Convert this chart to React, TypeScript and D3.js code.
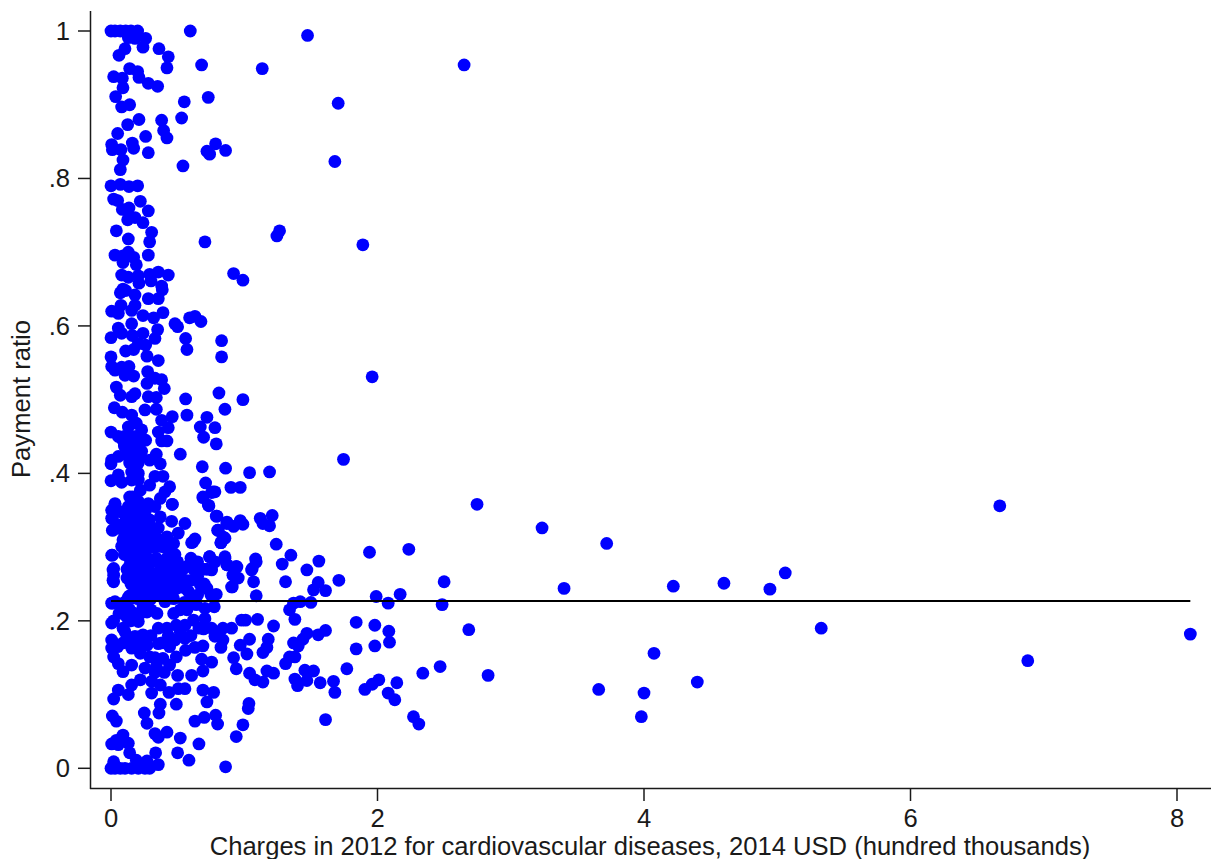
import React from "react";
import * as d3 from "d3";

type P = [number, number];

const xTicks = [0, 2, 4, 6, 8];
const yTicks = [0, 0.2, 0.4, 0.6, 0.8, 1];
const yTickLabels = ["0", ".2", ".4", ".6", ".8", "1"];
const xTitle = "Charges in 2012 for cardiovascular diseases, 2014 USD (hundred thousands)";
const yTitle = "Payment ratio";
const meanRatio = 0.227;
const lineExtent = [0, 8.1];

const topBand: P[] = [
  [0,1],[.03,1],[.07,1],[.11,1],[.15,1],[.2,1],[.13,.991],[.18,.99],[.26,.99],[.24,.978],[.105,.976],[.06,.967],[.36,.976],[.43,.965],[.42,.95],[.68,.954],[.595,1],[1.475,.994],[1.135,.949],[1.705,.902],[.73,.91],[.55,.904],[.53,.882],[1.68,.823],[.54,.817],[.785,.847],[.72,.837],[.74,.833],[.86,.838],[.28,.835],[.26,.857],[.38,.879],[.395,.865],[.42,.855],[.21,.88],[.125,.873],[.05,.861],[.005,.846],[.01,.839],[.075,.839],[.16,.848],[.17,.841],[.09,.825],[.07,.812],[.14,.949],[.2,.945],[.21,.937],[.28,.929],[.35,.925],[.02,.938],[.085,.936],[.09,.923],[.035,.911],[.08,.897],[.14,.9],[2.65,.954],
];
const upperBand: P[] = [
  [0,.79],[.07,.792],[.135,.789],[.2,.79],[.02,.772],[.05,.77],[.085,.758],[.135,.76],[.22,.769],[.28,.756],[.125,.744],[.18,.747],[.24,.74],[.04,.729],[.305,.727],[.13,.718],[.29,.714],[.705,.714],[1.245,.722],[1.265,.729],[1.89,.71],[.03,.696],[.09,.695],[.13,.7],[.17,.693],[.09,.686],[.19,.683],[.28,.696],[.08,.669],[.13,.666],[.205,.668],[.29,.67],[.355,.673],[.43,.669],[.3,.661],[.21,.658],[.38,.654],[.92,.671],[.99,.662],[.09,.65],
  [.07,.645],[.11,.648],[.18,.642],[.28,.637],[.355,.637],[.385,.649],[.075,.628],[.005,.62],[.055,.617],[.155,.621],[.24,.614],[.32,.611],[.39,.618],[.18,.628],[.48,.603],[.5,.599],[.59,.611],[.63,.613],[.675,.606],[.155,.603],[.055,.597],[.08,.59],[0,.584],[.16,.587],[.24,.59],[.35,.595],[.33,.583],[.56,.583],[.57,.568],[.83,.58],[.83,.558],[.205,.576],[.26,.574],[.17,.568],[.11,.566],[.27,.559],[.355,.553],[0,.558],[.005,.545],[.08,.544],[.135,.545],[.03,.54],[.105,.533],[.17,.532],[.275,.538],[.27,.522],[.33,.529],[.38,.527],[.4,.515],[.04,.517],[.07,.506],[.155,.504],[.18,.508],[.28,.504],[.34,.503],[.56,.501],[.81,.509],[.99,.5],[1.96,.531],
];
const middleBand: P[] = [
  [.025,.489],[.085,.483],[.155,.479],[.255,.486],[.34,.487],[.855,.487],[.57,.479],[.46,.477],[.38,.472],[.43,.462],[.72,.476],[.67,.463],[.78,.462],[.695,.449],[.79,.44],[0,.456],[.355,.456],[.38,.444],[.42,.444],[.19,.468],[.13,.463],[.23,.459],[.055,.45],[.09,.445],[.155,.45],[.19,.45],[.24,.445],[.26,.445],[.12,.435],[.16,.43],[.2,.435],[.23,.43],[.14,.42],[.18,.415],[.21,.42],[.1,.45],[.13,.445],[.17,.44],[.21,.445],[.15,.44],[.1,.437],[.52,.426],[.34,.426],[.29,.418],[.37,.413],[.005,.418],[0,.413],[.055,.423],[.12,.425],[.14,.414],[.205,.414],[.155,.402],[.205,.4],[.33,.396],[.39,.396],[.685,.409],[.86,.407],[1.04,.401],[1.19,.402],[1.745,.419],[0,.39],[.055,.398],[.08,.388],[.155,.391],[.205,.391],[.71,.387],[.9,.381],[.97,.381],[.78,.375],[.755,.374],[.69,.367],[.735,.356],[.44,.382],[.405,.375],[.29,.384],[.22,.377],[.14,.368],[.37,.366],[.46,.358],[.03,.359],[.005,.35],[.07,.348],[.13,.355],[.205,.362],[.28,.359],[.33,.355],[.18,.346],[.24,.348],[.155,.337],[.005,.339],[.29,.337],[.37,.341],[.455,.335],[.555,.332],[.505,.319],[.79,.342],[.87,.332],[.92,.328],[.97,.336],[.99,.331],[1.12,.339],[1.14,.332],[1.19,.329],[1.21,.343],[.805,.323],[.84,.314],[.825,.306],[.63,.311],[.605,.306],[1.24,.304],[1.35,.289],[1.085,.284],[1.285,.277],[1.56,.281],[1.47,.269],[.01,.323],[.055,.326],[.12,.305],[.08,.301],[.005,.289],[.02,.271],
];
const denseCore: P[] = [
  [.155,.314],[.22,.323],[.28,.319],[.355,.326],[.42,.314],[.47,.305],[.18,.305],[.27,.305],[.37,.301],[.48,.29],[.74,.287],[.855,.287],[.94,.274],[.87,.276],[1.06,.271],[.07,.33],[.1,.345],[.13,.335],[.17,.33],[.2,.32],[.24,.34],[.28,.335],[.32,.325],[.09,.31],[.13,.305],[.16,.315],[.2,.3],[.24,.31],[.28,.3],[.32,.3],[.36,.31],[.1,.29],[.14,.285],[.18,.29],[.22,.285],[.26,.29],[.3,.28],[.34,.285],[.38,.28],[.42,.285],[.46,.275],[.5,.28],[.54,.27],[.58,.275],[.12,.27],[.16,.265],[.2,.27],[.24,.26],[.28,.27],[.32,.26],[.36,.265],[.4,.26],[.44,.265],[.48,.26],[.52,.255],[.15,.25],[.19,.245],[.23,.25],[.27,.24],[.31,.245],[.35,.255],[.39,.245],[.43,.24],[.2,.23],[.25,.225],[.3,.23],[.35,.235],[.4,.235],[.47,.23],[.3,.215],[.24,.22],[.15,.23],[.1,.225],[.12,.205],[.18,.21],[.22,.21],[.47,.21],[.55,.225],[.6,.23],[.65,.235],[.6,.255],[.65,.26],[.7,.25],[.75,.235],[.72,.27],[.78,.28],[.6,.285],[.65,.28],
  [.03,.357],[.01,.339],[.015,.323],[.16,.368],[.46,.358],[.69,.368],[.73,.357],[.765,.375],[.795,.342],[.87,.334],[.97,.334],[.8,.323],[.855,.312],[.825,.306],[.615,.307],[.01,.289],[.74,.287],[.855,.285],[.87,.276],[.945,.273],[.915,.262],[.955,.258],[.91,.246],[.015,.269],[.015,.255],[.12,.258],[.13,.232],[.01,.224],
  [.19,.35],[.26,.35],[.22,.33],[.15,.325],[.1,.32],[.26,.32],[.18,.32],[.11,.3],[.22,.3],[.3,.31],[.34,.31],[.4,.3],[.44,.3],[.16,.3],[.26,.28],[.2,.28],[.14,.275],[.3,.265],[.36,.28],[.42,.275],[.5,.27],[.26,.255],[.32,.25],[.2,.26],[.38,.255],[.46,.25],[.56,.255],[.18,.235],[.23,.235],[.32,.235],[.5,.245],[.55,.245],
];
const lowerBand: P[] = [
  [.94,.258],[.905,.246],[1.07,.253],[1.09,.234],[1.31,.253],[1.055,.269],[1.52,.242],[1.61,.241],[1.555,.252],[1.71,.255],[1.09,.28],[.79,.236],[.755,.269],[.67,.249],[.72,.244],[.58,.24],[.49,.244],[.38,.24],[.27,.24],[.14,.234],[.02,.262],[.02,.253],[.13,.26],[.24,.27],[.37,.27],[.49,.27],[.62,.27],[.69,.27],[.155,.271],[.29,.25],[.42,.25],[.24,.255],
  [.005,.224],[.03,.226],[.08,.217],[.02,.2],[.005,.197],[.14,.215],[.205,.199],[.27,.212],[.345,.21],[.405,.226],[.52,.215],[.57,.215],[.64,.222],[.705,.217],[.775,.219],[.62,.201],[.555,.194],[.49,.194],[.42,.19],[.355,.19],[.705,.203],[.695,.189],[.755,.19],[.84,.19],[.905,.19],[.78,.179],[.84,.174],[.825,.164],[.98,.201],[1.01,.201],[1.1,.202],[1.22,.193],[1.04,.175],[.97,.167],[1.02,.155],[1.18,.175],[1.17,.164],[1.14,.157],[.92,.15],[.94,.135],[1.04,.129],[1.08,.12],[1.14,.117],[1.17,.132],[1.22,.129],[1.31,.142],[1.34,.151],[1.38,.151],[1.37,.17],[1.405,.166],[1.44,.175],[1.47,.183],[1.555,.181],[1.61,.187],[1.34,.215],[1.37,.224],[1.42,.226],[1.5,.225],[1.38,.202],[1.455,.133],[1.52,.132],[1.38,.121],[1.4,.112],[1.47,.119],[1.57,.116],[1.67,.118],[1.68,.103],[1.61,.066],
  [.06,.21],[.11,.225],[.15,.2],[.09,.19],[.05,.165],[.13,.175],[.2,.17],[.3,.18],[.38,.17],[.43,.18],[.52,.185],[.33,.15],[.6,.18],[.56,.16],[.4,.13],[.33,.13],[.62,.23],[.66,.19],
];
const bottomBand: P[] = [
  [.005,.174],[.005,.163],[.02,.151],[.055,.142],[.09,.131],[.105,.185],[.18,.179],[.24,.181],[.09,.17],[.155,.163],[.27,.167],[.355,.169],[.29,.151],[.22,.156],[.155,.14],[.255,.136],[.34,.138],[.39,.149],[.48,.174],[.555,.176],[.44,.165],[.49,.151],[.44,.14],[.63,.164],[.69,.166],[.68,.148],[.755,.144],[.69,.132],[.605,.126],[.5,.126],[.555,.108],[.505,.108],[.69,.106],[.77,.103],[.72,.09],[.435,.103],[.37,.113],[.305,.118],[.22,.12],[.155,.113],[.055,.106],[.13,.1],[.02,.094],[.305,.102],[.37,.087],[.49,.087],[.36,.075],[.25,.075],[.27,.061],[.01,.071],[.04,.064],[.33,.047],[.355,.042],[.42,.049],[.52,.041],[.66,.033],[.63,.064],[.7,.069],[.785,.072],[.8,.06],[1.035,.088],[1.03,.081],[.99,.059],[.94,.043],[.09,.045],[.04,.038],[.005,.033],[.055,.032],[.13,.034],[.14,.021],[.335,.021],[.5,.021],[.585,.011],[.86,.002],[.355,.005],[0,0],[.03,0],[.07,0],[.105,0],[.155,0],[.205,0],[.255,0],[.29,0],[.02,.009],[.19,.011],[.27,.01],
];
const outliers: P[] = [
  [2.747,.358],[3.235,.326],[3.72,.305],[1.94,.293],[2.235,.297],[2.5,.253],[3.4,.244],[1.99,.233],[2.17,.236],[2.08,.224],[2.485,.222],[1.84,.198],[1.98,.194],[2.085,.186],[2.09,.171],[1.98,.166],[1.84,.162],[2.685,.188],[1.77,.135],[2.47,.138],[2.34,.129],[2.83,.126],[2.145,.116],[2.01,.12],[1.96,.114],[1.905,.107],[2.08,.102],[2.13,.093],[2.27,.07],[2.31,.06],[3.66,.107],[4.22,.247],[4.6,.251],[4.945,.243],[5.06,.265],[5.33,.19],[6.67,.356],[6.88,.146],[8.1,.182],[4.4,.117],[4.075,.156],[4,.102],[3.98,.07],
];

const points: P[] = [...topBand, ...upperBand, ...middleBand, ...denseCore, ...lowerBand, ...bottomBand, ...outliers];

const x = d3.scaleLinear().domain([0, 8]).range([111, 1177]);
const y = d3.scaleLinear().domain([0, 1]).range([768.3, 31]);
const FONT = "'Liberation Sans', Arial, sans-serif";
const INK = "#1a1a1a";
const FS = 25.6;

export default function App() {
  return (
    <svg width={1211} height={859} style={{ position: "absolute", left: 0, top: 0, display: "block", background: "#fff" }}>
      <g fill="#0000ff">
        {points.map((p, i) => (
          <circle key={i} cx={x(p[0])} cy={y(p[1])} r={6.4} />
        ))}
      </g>
      <line x1={x(lineExtent[0])} x2={x(lineExtent[1])} y1={y(meanRatio)} y2={y(meanRatio)} stroke="#000" strokeWidth={2} />
      <line x1={90.5} x2={90.5} y1={11} y2={789} stroke={INK} strokeWidth={1.5} />
      <line x1={90} x2={1211} y1={788.5} y2={788.5} stroke={INK} strokeWidth={1.5} />
      {yTicks.map((t, i) => (
        <g key={t}>
          <line x1={78} x2={90} y1={y(t)} y2={y(t)} stroke={INK} strokeWidth={1.5} />
          <text x={70} y={y(t) + 9} textAnchor="end" fontFamily={FONT} fontSize={FS} fill={INK}>{yTickLabels[i]}</text>
        </g>
      ))}
      {xTicks.map((t) => (
        <g key={t}>
          <line x1={x(t)} x2={x(t)} y1={789} y2={801} stroke={INK} strokeWidth={1.5} />
          <text x={x(t)} y={827} textAnchor="middle" fontFamily={FONT} fontSize={FS} fill={INK}>{t}</text>
        </g>
      ))}
      <text x={650} y={855} textAnchor="middle" fontFamily={FONT} fontSize={FS} fill={INK}>{xTitle}</text>
      <text transform="translate(30,399) rotate(-90)" textAnchor="middle" fontFamily={FONT} fontSize={FS} fill={INK}>{yTitle}</text>
    </svg>
  );
}
